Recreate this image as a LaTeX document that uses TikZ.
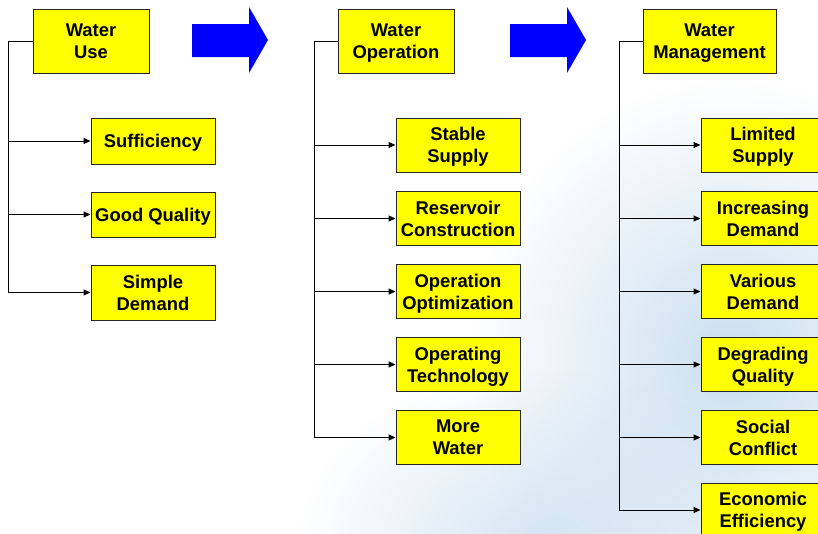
\documentclass[tikz,border=0pt]{standalone}
\usepackage{fontspec}
\setmainfont{Liberation Sans}
\usetikzlibrary{arrows.meta,positioning,fadings}
\definecolor{boxyellow}{RGB}{255,255,0}
\definecolor{bigblue}{RGB}{0,0,255}
\definecolor{mist}{RGB}{185,212,235}
\tikzfading[name=softcircle, inner color=transparent!0, outer color=transparent!100]
\tikzset{
  ybox/.style={draw=black!85, line width=1pt, fill=boxyellow, inner sep=0pt,
    text depth=0pt, align=center, font=\fontsize{18.4}{22}\selectfont\bfseries},
  topbox/.style={ybox, minimum height=64pt},
  subbox/.style={ybox, minimum width=124pt, minimum height=54pt},
  conn/.style={line width=1pt, black},
  tip/.style={-{Triangle[length=7pt,width=6pt]}},
  bigarrow/.style={fill=bigblue, draw=none}
}
\begin{document}
\begin{tikzpicture}[x=1pt,y=-1pt]
\clip (0,0) rectangle (818,533);
\fill[white] (0,0) rectangle (818,533);
% faint watery background
\fill[mist, opacity=0.75, path fading=softcircle] (730,360) ellipse (260 and 280);
\fill[mist, opacity=0.6, path fading=softcircle] (540,540) ellipse (240 and 170);

% big blue arrows
\fill[bigarrow] (192,24) -- (249,24) -- (249,7) -- (268,40) -- (249,73) -- (249,57) -- (192,57) -- cycle;
\fill[bigarrow] (510,24) -- (567,24) -- (567,7) -- (586,40) -- (567,73) -- (567,57) -- (510,57) -- cycle;

% column 1
\node[topbox, minimum width=116pt] (use) at (91,41) {Water\\Use};
\node[subbox, minimum height=46pt] (suf) at (153,141) {Sufficiency};
\node[subbox, minimum height=45pt] (gq) at (153,214.5) {Good Quality};
\node[subbox, minimum height=55pt] (sd) at (153,292.5) {Simple\\Demand};
\coordinate (c1) at (8,41);
\draw[conn,tip] (use.west) -- (c1) |- (sd.west);
\draw[conn,tip] (c1 |- suf.west) -- (suf.west);
\draw[conn,tip] (c1 |- gq.west) -- (gq.west);

% column 2
\node[topbox, minimum width=116pt] (op) at (396,41) {Water\\Operation};
\node[subbox] (ss) at (458,145) {Stable\\Supply};
\node[subbox] (rc) at (458,218.5) {Reservoir\\Construction};
\node[subbox] (oo) at (458,291.5) {Operation\\Optimization};
\node[subbox] (ot) at (458,364.5) {Operating\\Technology};
\node[subbox] (mw) at (458,437.5) {More\\Water};
\coordinate (c2) at (314,41);
\draw[conn,tip] (op.west) -- (c2) |- (mw.west);
\foreach \n in {ss,rc,oo,ot}{
  \draw[conn,tip] (c2 |- \n.west) -- (\n.west);
}

% column 3
\node[topbox, minimum width=133pt] (mg) at (709.5,41) {Water\\Management};
\node[subbox] (ls) at (763,145) {Limited\\Supply};
\node[subbox] (id) at (763,218.5) {Increasing\\Demand};
\node[subbox] (vd) at (763,291.5) {Various\\Demand};
\node[subbox] (dq) at (763,364.5) {Degrading\\Quality};
\node[subbox] (sc) at (763,437.5) {Social\\Conflict};
\node[subbox] (ee) at (763,510) {Economic\\Efficiency};
\coordinate (c3) at (619,41);
\draw[conn,tip] (mg.west) -- (c3) |- (ee.west);
\foreach \n in {ls,id,vd,dq,sc}{
  \draw[conn,tip] (c3 |- \n.west) -- (\n.west);
}
\end{tikzpicture}
\end{document}
